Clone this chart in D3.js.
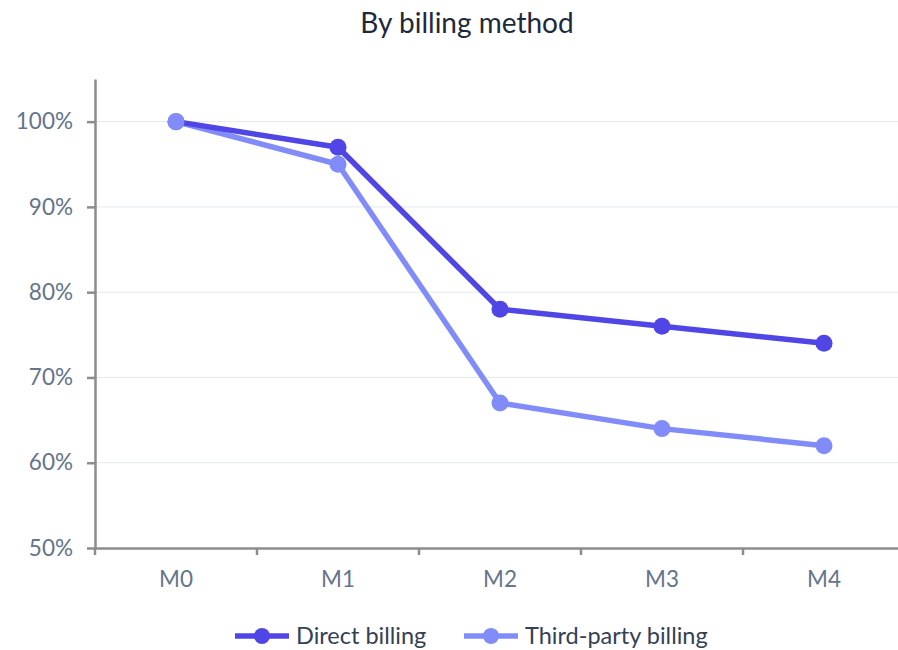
<!DOCTYPE html>
<html>
<head>
<meta charset="utf-8">
<script src="https://cdn.jsdelivr.net/npm/d3@7"></script>
<style>
  html, body { margin: 0; padding: 0; background: #fff; }
  svg { display: block; font-family: Lato, "Open Sans", sans-serif; }
</style>
</head>
<body>
<svg id="chart" width="898" height="650"></svg>
<script>
const months = ["M0", "M1", "M2", "M3", "M4"];
const directBilling = [100, 97, 78, 76, 74];
const thirdPartyBilling = [100, 95, 67, 64, 62];
const yTicks = [50, 60, 70, 80, 90, 100];

const series = [
  { name: "Direct billing", values: directBilling, color: "#4f46e5" },
  { name: "Third-party billing", values: thirdPartyBilling, color: "#818cf8" }
];

const svg = d3.select("#chart");
const margin = { left: 95, right: 905, top: 79, bottom: 548 };
const fontFamily = "Lato, 'Open Sans', sans-serif";

const x = d3.scaleBand().domain(months).range([margin.left, margin.right]);
const y = d3.scaleLinear().domain([50, 105]).range([margin.bottom, margin.top]);

// title
svg.append("text")
  .attr("x", 467).attr("y", 33)
  .attr("text-anchor", "middle")
  .attr("font-size", 28)
  .attr("fill", "#1e293b")
  .text("By billing method");

// gridlines
svg.append("g").selectAll("line")
  .data(yTicks.filter(d => d > 50))
  .join("line")
  .attr("x1", margin.left).attr("x2", margin.right)
  .attr("y1", d => y(d)).attr("y2", d => y(d))
  .attr("stroke", "#e3e8f0").attr("stroke-width", 1);

// y axis
const yAxis = svg.append("g")
  .attr("transform", `translate(${margin.left},0)`)
  .call(d3.axisLeft(y).tickValues(yTicks).tickFormat(d => d + "%").tickSize(8).tickPadding(14).tickSizeOuter(0));
yAxis.select(".domain").attr("stroke", "#8c8c8c").attr("stroke-width", 2.5);
yAxis.selectAll(".tick line").attr("stroke", "#8c8c8c").attr("stroke-width", 2.5);
yAxis.selectAll(".tick text").attr("fill", "#64748b").attr("font-size", 22.5).attr("font-family", fontFamily);

// x axis
const xAxis = svg.append("g")
  .attr("transform", `translate(0,${margin.bottom})`)
  .call(d3.axisBottom(x).tickSize(0).tickPadding(23));
xAxis.select(".domain").attr("stroke", "#8c8c8c").attr("stroke-width", 2.5);
xAxis.selectAll(".tick text").attr("fill", "#64748b").attr("font-size", 22.5).attr("font-family", fontFamily);
// tick marks at band boundaries
const bounds = months.map(m => x(m)).concat([x(months[months.length - 1]) + x.bandwidth()]);
xAxis.selectAll("line.sep")
  .data(bounds)
  .join("line")
  .attr("class", "sep")
  .attr("x1", d => d).attr("x2", d => d)
  .attr("y1", 0).attr("y2", 7)
  .attr("stroke", "#8c8c8c").attr("stroke-width", 2.5);

const cx = m => x(m) + x.bandwidth() / 2;
const line = d3.line().x((d, i) => cx(months[i])).y(d => y(d));

// lines: third-party underneath, direct on top
[...series].reverse().forEach(s => {
  svg.append("path")
    .attr("d", line(s.values))
    .attr("fill", "none")
    .attr("stroke", s.color)
    .attr("stroke-width", 5.5)
    .attr("stroke-linejoin", "round");
});
// markers
series.forEach(s => {
  svg.append("g").selectAll("circle")
    .data(s.values)
    .join("circle")
    .attr("cx", (d, i) => cx(months[i]))
    .attr("cy", d => y(d))
    .attr("r", 8.5)
    .attr("fill", s.color);
});

// legend
const legendItems = [
  { s: series[0], x0: 235 },
  { s: series[1], x0: 464 }
];
legendItems.forEach(({ s, x0 }) => {
  const g = svg.append("g").attr("transform", `translate(${x0},636)`);
  g.append("line").attr("x1", 0).attr("x2", 54).attr("y1", 0).attr("y2", 0)
    .attr("stroke", s.color).attr("stroke-width", 5.5);
  g.append("circle").attr("cx", 27).attr("cy", 0).attr("r", 8).attr("fill", s.color);
  g.append("text").attr("x", 61).attr("y", 8)
    .attr("font-size", 23.5).attr("fill", "#334155")
    .text(s.name);
});
</script>
</body>
</html>
